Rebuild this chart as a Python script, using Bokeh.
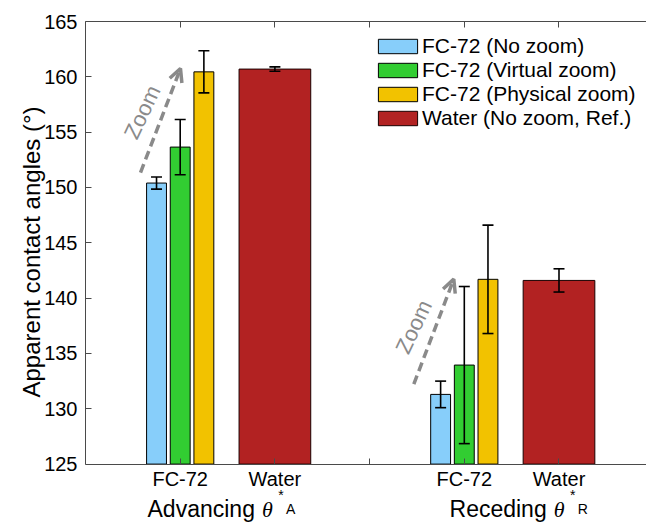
from bokeh.plotting import figure
from bokeh.models import (Range1d, FixedTicker, LinearAxis, ColumnDataSource, Whisker, TeeHead,
                          Legend, LegendItem, Label, Arrow, OpenHead, Title)
from bokeh.embed import file_html
from bokeh.resources import INLINE

# ---------------- data ----------------
group_names = ["Advancing", "Receding"]
group_subscripts = ["A", "R"]
tick_positions = [1, 2, 3, 4, 5]
tick_labels = ["FC-72", "Water", "", "FC-72", "Water"]
y_ticks = [125, 130, 135, 140, 145, 150, 155, 160, 165]
series_names = ["FC-72 (No zoom)", "FC-72 (Virtual zoom)", "FC-72 (Physical zoom)", "Water (No zoom, Ref.)"]

fc_no_zoom = [150.4, 131.3]
fc_no_zoom_err = [0.55, 1.2]
fc_virtual_zoom = [153.65, 133.95]
fc_virtual_zoom_err = [2.5, 7.1]
fc_physical_zoom = [160.45, 141.7]
fc_physical_zoom_err = [1.9, 4.9]
water_no_zoom = [160.7, 141.6]
water_no_zoom_err = [0.2, 1.05]

# ---------------- layout / style ----------------
fc_centers = [1, 4]
water_centers = [2, 5]
fc_offsets = [-0.25, 0.0, 0.25]
fc_width = 0.21
water_width = 0.757
colors = ["#87CEFA", "#32CD32", "#F2C200", "#B22222"]
FONT = "Liberation Sans"
GRAY = "#8a8a8a"
AXC = "#4a4a4a"
Y_LOW = 119.09          # frame extends below the 125 baseline to hold the category texts
BASE = 125
PX_PER_X = 94.7

p = figure(width=646, height=529, x_range=Range1d(0, 5.924), y_range=Range1d(Y_LOW, 165),
           output_backend="svg", toolbar_location=None,
           min_border_left=85, min_border_right=0, min_border_top=21, min_border_bottom=0)
p.outline_line_color = None
p.xgrid.visible = False
p.ygrid.visible = False
p.background_fill_color = "white"
p.border_fill_color = "white"

# y axis (only drawn between 125 and 165)
ya = p.yaxis[0]
ya.bounds = (BASE, 165)
ya.ticker = FixedTicker(ticks=y_ticks)
ya.major_label_text_font = FONT
ya.major_label_text_font_size = "20px"
ya.major_label_text_color = "black"
ya.major_label_standoff = 8

ytitle = Title(text="Apparent contact angles (°)", align="left", offset=132, standoff=-6,
               text_font=FONT, text_font_size="24px", text_font_style="normal", text_color="black")
p.add_layout(ytitle, "left")

# bottom axis line sits on the 125 baseline
xa = p.xaxis[0]
xa.fixed_location = BASE
xa.ticker = FixedTicker(ticks=tick_positions)
xa.major_label_text_font_size = "1px"
xa.major_label_text_color = None
xa.major_label_standoff = 0

top = LinearAxis(ticker=FixedTicker(ticks=tick_positions), major_label_text_font_size="1px",
                 major_label_text_color=None, major_label_standoff=0)
p.add_layout(top, "above")

for ax in (xa, ya, top):
    ax.axis_line_color = AXC
    ax.axis_line_width = 1
    ax.major_tick_line_color = AXC
    ax.major_tick_in = 6
    ax.major_tick_out = 0
    ax.minor_tick_line_color = None

# category tick texts
for t, lab in zip(tick_positions, tick_labels):
    if lab:
        p.add_layout(Label(x=t, y=123.64, text=lab, text_align="center", text_baseline="alphabetic",
                           text_font=FONT, text_font_size="20px", text_color="black"))

# ---------------- bars ----------------
fc_series = [(fc_no_zoom, fc_no_zoom_err), (fc_virtual_zoom, fc_virtual_zoom_err),
             (fc_physical_zoom, fc_physical_zoom_err)]
renderers = []
wx, wu, wl = [], [], []
for i, (vals, errs) in enumerate(fc_series):
    xs = [c + fc_offsets[i] for c in fc_centers]
    r = p.vbar(x=xs, top=vals, bottom=BASE, width=fc_width, fill_color=colors[i],
               line_color="black", line_width=1)
    renderers.append(r)
    wx += xs
    wu += [v + e for v, e in zip(vals, errs)]
    wl += [v - e for v, e in zip(vals, errs)]
r = p.vbar(x=water_centers, top=water_no_zoom, bottom=BASE, width=water_width, fill_color=colors[3],
           line_color="#1a0000", line_width=1)
renderers.append(r)
wx += water_centers
wu += [v + e for v, e in zip(water_no_zoom, water_no_zoom_err)]
wl += [v - e for v, e in zip(water_no_zoom, water_no_zoom_err)]

wsrc = ColumnDataSource(data=dict(base=wx, upper=wu, lower=wl))
whisk = Whisker(source=wsrc, base="base", upper="upper", lower="lower",
                line_color="black", line_width=1.6, level="annotation",
                upper_head=TeeHead(size=11, line_color="black", line_width=1.6),
                lower_head=TeeHead(size=11, line_color="black", line_width=1.6))
p.add_layout(whisk)

# ---------------- legend ----------------
legend = Legend(items=[LegendItem(label=n, renderers=[rr]) for n, rr in zip(series_names, renderers)],
                location=(288, 399), orientation="vertical",
                glyph_width=49, glyph_height=18, label_standoff=-5, spacing=-2,
                padding=0, margin=0, label_height=22,
                label_text_font=FONT, label_text_font_size="21px", label_text_color="black",
                border_line_color=None, background_fill_alpha=0)
p.add_layout(legend)

# ---------------- zoom annotations ----------------
arrows = [((0.581, 151.35), (1.003, 160.75)), ((3.467, 132.23), (3.889, 141.72))]
zoom_text_pos = [(0.60, 156.8), (3.467, 137.4)]
for (s, e), (tx, ty) in zip(arrows, zoom_text_pos):
    p.add_layout(Arrow(x_start=s[0], y_start=s[1], x_end=e[0], y_end=e[1],
                       line_color=GRAY, line_width=3.5, line_dash="9 5",
                       end=OpenHead(size=13, line_color=GRAY, line_width=3.5)))
    p.add_layout(Label(x=tx, y=ty, text="Zoom", angle=1.13, text_align="center",
                       text_baseline="middle", text_color=GRAY, text_font=FONT,
                       text_font_size="22px"))

# ---------------- composite group labels: "Advancing θ*A", "Receding θ*R" ----------------
WORD_PX = 23
ARIAL_W = {"A": 667, "d": 556, "v": 500, "a": 556, "n": 556, "c": 500, "i": 222, "g": 556,
           "R": 722, "e": 556}
group_label_lefts = [0.655, 3.844]     # data x where each composite label starts
baseline_y = 120.92
star_top_y = 122.89
for word, sub, left in zip(group_names, group_subscripts, group_label_lefts):
    w = sum(ARIAL_W[ch] for ch in word) / 1000 * WORD_PX
    th = left + (w + 7) / PX_PER_X
    p.add_layout(Label(x=left, y=baseline_y, text=word, text_font=FONT,
                       text_font_size=f"{WORD_PX}px", text_align="left",
                       text_baseline="alphabetic", text_color="black"))
    p.add_layout(Label(x=th, y=baseline_y, text="θ", text_font="Liberation Serif",
                       text_font_size="22px", text_font_style="italic", text_align="left",
                       text_baseline="alphabetic", text_color="black"))
    p.add_layout(Label(x=th + 19 / PX_PER_X, y=star_top_y, text="*", text_font=FONT,
                       text_font_size="14px", text_align="center",
                       text_baseline="top", text_color="black"))
    p.add_layout(Label(x=th + 24 / PX_PER_X, y=baseline_y, text=sub, text_font=FONT,
                       text_font_size="14px", text_align="left",
                       text_baseline="alphabetic", text_color="black"))

open("out.html", "w").write(file_html(p, INLINE))
